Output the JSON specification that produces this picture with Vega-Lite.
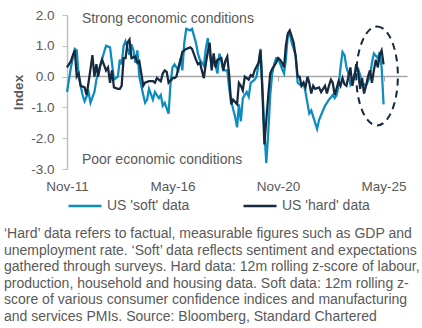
{
  "$schema": "https://vega.github.io/schema/vega-lite/v6.json",
  "width": 340,
  "height": 154,
  "autosize": {"type": "none"},
  "padding": {"left": 67, "top": 15, "right": 15, "bottom": 159},
  "background": "white",
  "config": {"font": "Liberation Sans", "view": {"stroke": null}},
  "title": {
    "text": [
      "‘Hard’ data refers to factual, measurable figures such as GDP and",
      "unemployment rate. ‘Soft’ data reflects sentiment and expectations",
      "gathered through surveys. Hard data: 12m rolling z-score of labour,",
      "production, household and housing data. Soft data: 12m rolling z-",
      "score of various consumer confidence indices and manufacturing",
      "and services PMIs. Source: Bloomberg, Standard Chartered"
    ],
    "orient": "bottom",
    "anchor": "start",
    "frame": "group",
    "dx": -63,
    "offset": 14,
    "fontSize": 14,
    "fontWeight": "normal",
    "color": "#595959",
    "lineHeight": 16.5
  },
  "datasets": {
    "series": [
      {"series": "US 'soft' data", "date": "2011-11-01", "value": -0.5},
      {"series": "US 'soft' data", "date": "2012-01-01", "value": 0.3},
      {"series": "US 'soft' data", "date": "2012-03-01", "value": 0.9},
      {"series": "US 'soft' data", "date": "2012-04-01", "value": 0.85},
      {"series": "US 'soft' data", "date": "2012-05-01", "value": 0.0},
      {"series": "US 'soft' data", "date": "2012-07-01", "value": -0.6},
      {"series": "US 'soft' data", "date": "2012-08-01", "value": -0.8},
      {"series": "US 'soft' data", "date": "2012-10-01", "value": -0.5},
      {"series": "US 'soft' data", "date": "2012-11-01", "value": -0.85},
      {"series": "US 'soft' data", "date": "2013-01-01", "value": -0.5},
      {"series": "US 'soft' data", "date": "2013-02-01", "value": -0.1},
      {"series": "US 'soft' data", "date": "2013-04-01", "value": 0.35},
      {"series": "US 'soft' data", "date": "2013-06-01", "value": 0.8},
      {"series": "US 'soft' data", "date": "2013-07-01", "value": 1.0},
      {"series": "US 'soft' data", "date": "2013-09-01", "value": 0.95},
      {"series": "US 'soft' data", "date": "2013-10-01", "value": 0.45},
      {"series": "US 'soft' data", "date": "2013-11-01", "value": -0.1},
      {"series": "US 'soft' data", "date": "2014-01-01", "value": 0.0},
      {"series": "US 'soft' data", "date": "2014-02-01", "value": 0.55},
      {"series": "US 'soft' data", "date": "2014-03-01", "value": 0.4},
      {"series": "US 'soft' data", "date": "2014-04-01", "value": 1.0},
      {"series": "US 'soft' data", "date": "2014-05-01", "value": 1.15},
      {"series": "US 'soft' data", "date": "2014-07-01", "value": 0.7},
      {"series": "US 'soft' data", "date": "2014-08-01", "value": 1.05},
      {"series": "US 'soft' data", "date": "2014-09-01", "value": 0.85},
      {"series": "US 'soft' data", "date": "2014-10-01", "value": 0.45},
      {"series": "US 'soft' data", "date": "2014-11-01", "value": 0.85},
      {"series": "US 'soft' data", "date": "2014-12-01", "value": 0.0},
      {"series": "US 'soft' data", "date": "2015-02-01", "value": -0.6},
      {"series": "US 'soft' data", "date": "2015-03-01", "value": -0.85},
      {"series": "US 'soft' data", "date": "2015-04-01", "value": -0.75},
      {"series": "US 'soft' data", "date": "2015-05-01", "value": -0.4},
      {"series": "US 'soft' data", "date": "2015-07-01", "value": -0.75},
      {"series": "US 'soft' data", "date": "2015-08-01", "value": -0.5},
      {"series": "US 'soft' data", "date": "2015-10-01", "value": -0.7},
      {"series": "US 'soft' data", "date": "2015-11-01", "value": -0.6},
      {"series": "US 'soft' data", "date": "2015-12-01", "value": -0.95},
      {"series": "US 'soft' data", "date": "2016-01-01", "value": -0.85},
      {"series": "US 'soft' data", "date": "2016-03-01", "value": -1.2},
      {"series": "US 'soft' data", "date": "2016-04-01", "value": -0.2},
      {"series": "US 'soft' data", "date": "2016-05-01", "value": 0.3},
      {"series": "US 'soft' data", "date": "2016-06-01", "value": 0.4},
      {"series": "US 'soft' data", "date": "2016-08-01", "value": 0.2},
      {"series": "US 'soft' data", "date": "2016-09-01", "value": 0.6},
      {"series": "US 'soft' data", "date": "2016-10-01", "value": 0.2},
      {"series": "US 'soft' data", "date": "2016-11-01", "value": 1.1},
      {"series": "US 'soft' data", "date": "2016-12-01", "value": 1.55},
      {"series": "US 'soft' data", "date": "2017-02-01", "value": 1.5},
      {"series": "US 'soft' data", "date": "2017-03-01", "value": 1.55},
      {"series": "US 'soft' data", "date": "2017-05-01", "value": 1.1},
      {"series": "US 'soft' data", "date": "2017-06-01", "value": 0.75},
      {"series": "US 'soft' data", "date": "2017-07-01", "value": 0.55},
      {"series": "US 'soft' data", "date": "2017-09-01", "value": 0.35},
      {"series": "US 'soft' data", "date": "2017-10-01", "value": 0.9},
      {"series": "US 'soft' data", "date": "2017-11-01", "value": 1.25},
      {"series": "US 'soft' data", "date": "2017-12-01", "value": 0.75},
      {"series": "US 'soft' data", "date": "2018-01-01", "value": 0.3},
      {"series": "US 'soft' data", "date": "2018-02-01", "value": 0.6},
      {"series": "US 'soft' data", "date": "2018-04-01", "value": 0.1},
      {"series": "US 'soft' data", "date": "2018-05-01", "value": 0.75},
      {"series": "US 'soft' data", "date": "2018-06-01", "value": 0.5},
      {"series": "US 'soft' data", "date": "2018-07-01", "value": 0.2},
      {"series": "US 'soft' data", "date": "2018-09-01", "value": 0.2},
      {"series": "US 'soft' data", "date": "2018-10-01", "value": -0.4},
      {"series": "US 'soft' data", "date": "2018-11-01", "value": -0.8},
      {"series": "US 'soft' data", "date": "2018-12-01", "value": -1.05},
      {"series": "US 'soft' data", "date": "2019-01-01", "value": -1.3},
      {"series": "US 'soft' data", "date": "2019-02-01", "value": -1.65},
      {"series": "US 'soft' data", "date": "2019-03-01", "value": -0.9},
      {"series": "US 'soft' data", "date": "2019-04-01", "value": -1.45},
      {"series": "US 'soft' data", "date": "2019-05-01", "value": -0.7},
      {"series": "US 'soft' data", "date": "2019-07-01", "value": -0.5},
      {"series": "US 'soft' data", "date": "2019-08-01", "value": -0.65},
      {"series": "US 'soft' data", "date": "2019-09-01", "value": -0.2},
      {"series": "US 'soft' data", "date": "2019-11-01", "value": -0.1},
      {"series": "US 'soft' data", "date": "2019-12-01", "value": 0.0},
      {"series": "US 'soft' data", "date": "2020-01-01", "value": 0.4},
      {"series": "US 'soft' data", "date": "2020-02-01", "value": 0.9},
      {"series": "US 'soft' data", "date": "2020-03-01", "value": -0.3},
      {"series": "US 'soft' data", "date": "2020-04-01", "value": -1.8},
      {"series": "US 'soft' data", "date": "2020-05-01", "value": -2.8},
      {"series": "US 'soft' data", "date": "2020-06-01", "value": -1.8},
      {"series": "US 'soft' data", "date": "2020-07-01", "value": -0.6},
      {"series": "US 'soft' data", "date": "2020-08-01", "value": 0.1},
      {"series": "US 'soft' data", "date": "2020-09-01", "value": 0.4},
      {"series": "US 'soft' data", "date": "2020-10-01", "value": 0.6},
      {"series": "US 'soft' data", "date": "2020-11-01", "value": 0.6},
      {"series": "US 'soft' data", "date": "2021-01-01", "value": 0.25},
      {"series": "US 'soft' data", "date": "2021-02-01", "value": 0.1},
      {"series": "US 'soft' data", "date": "2021-03-01", "value": 0.55},
      {"series": "US 'soft' data", "date": "2021-04-01", "value": 1.35},
      {"series": "US 'soft' data", "date": "2021-05-01", "value": 1.4},
      {"series": "US 'soft' data", "date": "2021-06-01", "value": 1.1},
      {"series": "US 'soft' data", "date": "2021-07-01", "value": 0.9},
      {"series": "US 'soft' data", "date": "2021-08-01", "value": 0.7},
      {"series": "US 'soft' data", "date": "2021-09-01", "value": -0.2},
      {"series": "US 'soft' data", "date": "2021-11-01", "value": -0.3},
      {"series": "US 'soft' data", "date": "2021-12-01", "value": -0.2},
      {"series": "US 'soft' data", "date": "2022-01-01", "value": -0.5},
      {"series": "US 'soft' data", "date": "2022-03-01", "value": -1.2},
      {"series": "US 'soft' data", "date": "2022-04-01", "value": -1.1},
      {"series": "US 'soft' data", "date": "2022-05-01", "value": -1.3},
      {"series": "US 'soft' data", "date": "2022-06-01", "value": -1.5},
      {"series": "US 'soft' data", "date": "2022-07-01", "value": -1.7},
      {"series": "US 'soft' data", "date": "2022-08-01", "value": -1.4},
      {"series": "US 'soft' data", "date": "2022-10-01", "value": -1.1},
      {"series": "US 'soft' data", "date": "2022-11-01", "value": -0.95},
      {"series": "US 'soft' data", "date": "2022-12-01", "value": -0.85},
      {"series": "US 'soft' data", "date": "2023-01-01", "value": -0.75},
      {"series": "US 'soft' data", "date": "2023-03-01", "value": -0.6},
      {"series": "US 'soft' data", "date": "2023-04-01", "value": -0.7},
      {"series": "US 'soft' data", "date": "2023-05-01", "value": -0.6},
      {"series": "US 'soft' data", "date": "2023-06-01", "value": -0.3},
      {"series": "US 'soft' data", "date": "2023-07-01", "value": 0.3},
      {"series": "US 'soft' data", "date": "2023-08-01", "value": 0.8},
      {"series": "US 'soft' data", "date": "2023-09-01", "value": 0.7},
      {"series": "US 'soft' data", "date": "2023-10-01", "value": 0.3},
      {"series": "US 'soft' data", "date": "2023-11-01", "value": 0.1},
      {"series": "US 'soft' data", "date": "2023-12-01", "value": -0.25},
      {"series": "US 'soft' data", "date": "2024-01-01", "value": -0.1},
      {"series": "US 'soft' data", "date": "2024-02-01", "value": 0.05},
      {"series": "US 'soft' data", "date": "2024-03-01", "value": 0.2},
      {"series": "US 'soft' data", "date": "2024-04-01", "value": 0.25},
      {"series": "US 'soft' data", "date": "2024-05-01", "value": 0.05},
      {"series": "US 'soft' data", "date": "2024-06-01", "value": -0.2},
      {"series": "US 'soft' data", "date": "2024-07-01", "value": -0.25},
      {"series": "US 'soft' data", "date": "2024-08-01", "value": -0.3},
      {"series": "US 'soft' data", "date": "2024-10-01", "value": 0.0},
      {"series": "US 'soft' data", "date": "2024-11-01", "value": 0.45},
      {"series": "US 'soft' data", "date": "2024-12-01", "value": 0.75},
      {"series": "US 'soft' data", "date": "2025-02-01", "value": 0.6},
      {"series": "US 'soft' data", "date": "2025-03-01", "value": 0.8},
      {"series": "US 'soft' data", "date": "2025-04-01", "value": 0.3},
      {"series": "US 'soft' data", "date": "2025-05-01", "value": -0.9},
      {"series": "US 'hard' data", "date": "2011-11-01", "value": 0.3},
      {"series": "US 'hard' data", "date": "2012-01-01", "value": 0.5},
      {"series": "US 'hard' data", "date": "2012-02-01", "value": 0.7},
      {"series": "US 'hard' data", "date": "2012-03-01", "value": 0.85},
      {"series": "US 'hard' data", "date": "2012-04-01", "value": 0.0},
      {"series": "US 'hard' data", "date": "2012-05-01", "value": 0.1},
      {"series": "US 'hard' data", "date": "2012-06-01", "value": -0.3},
      {"series": "US 'hard' data", "date": "2012-08-01", "value": -0.35},
      {"series": "US 'hard' data", "date": "2012-09-01", "value": -0.6},
      {"series": "US 'hard' data", "date": "2012-10-01", "value": -0.2},
      {"series": "US 'hard' data", "date": "2012-11-01", "value": 0.25},
      {"series": "US 'hard' data", "date": "2012-12-01", "value": 0.7},
      {"series": "US 'hard' data", "date": "2013-01-01", "value": 0.0},
      {"series": "US 'hard' data", "date": "2013-02-01", "value": 0.4},
      {"series": "US 'hard' data", "date": "2013-03-01", "value": 0.0},
      {"series": "US 'hard' data", "date": "2013-04-01", "value": 0.35},
      {"series": "US 'hard' data", "date": "2013-05-01", "value": 0.55},
      {"series": "US 'hard' data", "date": "2013-07-01", "value": 0.2},
      {"series": "US 'hard' data", "date": "2013-08-01", "value": 0.3},
      {"series": "US 'hard' data", "date": "2013-09-01", "value": -0.2},
      {"series": "US 'hard' data", "date": "2013-10-01", "value": 0.2},
      {"series": "US 'hard' data", "date": "2013-11-01", "value": -0.35},
      {"series": "US 'hard' data", "date": "2014-01-01", "value": -0.4},
      {"series": "US 'hard' data", "date": "2014-02-01", "value": -0.4},
      {"series": "US 'hard' data", "date": "2014-03-01", "value": -0.3},
      {"series": "US 'hard' data", "date": "2014-04-01", "value": 0.6},
      {"series": "US 'hard' data", "date": "2014-05-01", "value": 0.6},
      {"series": "US 'hard' data", "date": "2014-06-01", "value": 1.1},
      {"series": "US 'hard' data", "date": "2014-07-01", "value": 1.2},
      {"series": "US 'hard' data", "date": "2014-08-01", "value": 0.6},
      {"series": "US 'hard' data", "date": "2014-10-01", "value": 0.65},
      {"series": "US 'hard' data", "date": "2014-11-01", "value": 0.45},
      {"series": "US 'hard' data", "date": "2014-12-01", "value": 0.5},
      {"series": "US 'hard' data", "date": "2015-01-01", "value": 0.1},
      {"series": "US 'hard' data", "date": "2015-02-01", "value": -0.3},
      {"series": "US 'hard' data", "date": "2015-03-01", "value": -0.2},
      {"series": "US 'hard' data", "date": "2015-05-01", "value": -0.15},
      {"series": "US 'hard' data", "date": "2015-07-01", "value": -0.15},
      {"series": "US 'hard' data", "date": "2015-08-01", "value": -0.2},
      {"series": "US 'hard' data", "date": "2015-09-01", "value": -0.05},
      {"series": "US 'hard' data", "date": "2015-11-01", "value": -0.15},
      {"series": "US 'hard' data", "date": "2015-12-01", "value": 0.1},
      {"series": "US 'hard' data", "date": "2016-01-01", "value": 0.2},
      {"series": "US 'hard' data", "date": "2016-02-01", "value": 0.15},
      {"series": "US 'hard' data", "date": "2016-03-01", "value": -0.2},
      {"series": "US 'hard' data", "date": "2016-05-01", "value": -0.05},
      {"series": "US 'hard' data", "date": "2016-06-01", "value": -0.05},
      {"series": "US 'hard' data", "date": "2016-07-01", "value": 0.0},
      {"series": "US 'hard' data", "date": "2016-08-01", "value": 0.3},
      {"series": "US 'hard' data", "date": "2016-09-01", "value": 0.5},
      {"series": "US 'hard' data", "date": "2016-10-01", "value": 0.8},
      {"series": "US 'hard' data", "date": "2016-12-01", "value": 0.9},
      {"series": "US 'hard' data", "date": "2017-02-01", "value": 0.95},
      {"series": "US 'hard' data", "date": "2017-03-01", "value": 0.9},
      {"series": "US 'hard' data", "date": "2017-05-01", "value": 0.55},
      {"series": "US 'hard' data", "date": "2017-06-01", "value": 0.4},
      {"series": "US 'hard' data", "date": "2017-07-01", "value": 0.45},
      {"series": "US 'hard' data", "date": "2017-09-01", "value": -0.05},
      {"series": "US 'hard' data", "date": "2017-10-01", "value": 0.4},
      {"series": "US 'hard' data", "date": "2017-11-01", "value": 0.8},
      {"series": "US 'hard' data", "date": "2017-12-01", "value": 1.1},
      {"series": "US 'hard' data", "date": "2018-01-01", "value": 0.2},
      {"series": "US 'hard' data", "date": "2018-02-01", "value": 0.75},
      {"series": "US 'hard' data", "date": "2018-03-01", "value": 0.3},
      {"series": "US 'hard' data", "date": "2018-04-01", "value": 0.55},
      {"series": "US 'hard' data", "date": "2018-06-01", "value": 0.6},
      {"series": "US 'hard' data", "date": "2018-07-01", "value": 0.2},
      {"series": "US 'hard' data", "date": "2018-08-01", "value": 0.5},
      {"series": "US 'hard' data", "date": "2018-09-01", "value": 0.65},
      {"series": "US 'hard' data", "date": "2018-10-01", "value": 0.05},
      {"series": "US 'hard' data", "date": "2018-11-01", "value": -0.9},
      {"series": "US 'hard' data", "date": "2018-12-01", "value": -0.75},
      {"series": "US 'hard' data", "date": "2019-02-01", "value": -0.9},
      {"series": "US 'hard' data", "date": "2019-03-01", "value": -0.2},
      {"series": "US 'hard' data", "date": "2019-04-01", "value": -0.3},
      {"series": "US 'hard' data", "date": "2019-05-01", "value": -0.45},
      {"series": "US 'hard' data", "date": "2019-06-01", "value": 0.0},
      {"series": "US 'hard' data", "date": "2019-08-01", "value": -0.1},
      {"series": "US 'hard' data", "date": "2019-09-01", "value": 0.05},
      {"series": "US 'hard' data", "date": "2019-10-01", "value": 0.0},
      {"series": "US 'hard' data", "date": "2019-11-01", "value": 0.2},
      {"series": "US 'hard' data", "date": "2020-01-01", "value": 0.45},
      {"series": "US 'hard' data", "date": "2020-02-01", "value": 0.85},
      {"series": "US 'hard' data", "date": "2020-03-01", "value": -0.5},
      {"series": "US 'hard' data", "date": "2020-04-01", "value": -2.2},
      {"series": "US 'hard' data", "date": "2020-05-01", "value": -1.4},
      {"series": "US 'hard' data", "date": "2020-06-01", "value": -0.6},
      {"series": "US 'hard' data", "date": "2020-07-01", "value": 0.1},
      {"series": "US 'hard' data", "date": "2020-08-01", "value": 0.25},
      {"series": "US 'hard' data", "date": "2020-09-01", "value": 0.35},
      {"series": "US 'hard' data", "date": "2020-10-01", "value": 0.45},
      {"series": "US 'hard' data", "date": "2020-11-01", "value": 0.6},
      {"series": "US 'hard' data", "date": "2020-12-01", "value": 0.55},
      {"series": "US 'hard' data", "date": "2021-01-01", "value": 0.45},
      {"series": "US 'hard' data", "date": "2021-02-01", "value": 0.3},
      {"series": "US 'hard' data", "date": "2021-03-01", "value": 1.0},
      {"series": "US 'hard' data", "date": "2021-04-01", "value": 1.4},
      {"series": "US 'hard' data", "date": "2021-05-01", "value": 1.5},
      {"series": "US 'hard' data", "date": "2021-06-01", "value": 1.3},
      {"series": "US 'hard' data", "date": "2021-07-01", "value": 1.1},
      {"series": "US 'hard' data", "date": "2021-08-01", "value": 0.65},
      {"series": "US 'hard' data", "date": "2021-09-01", "value": 0.0},
      {"series": "US 'hard' data", "date": "2021-10-01", "value": 0.0},
      {"series": "US 'hard' data", "date": "2021-11-01", "value": -0.3},
      {"series": "US 'hard' data", "date": "2021-12-01", "value": -0.2},
      {"series": "US 'hard' data", "date": "2022-01-01", "value": -0.35},
      {"series": "US 'hard' data", "date": "2022-02-01", "value": 0.0},
      {"series": "US 'hard' data", "date": "2022-03-01", "value": -0.2},
      {"series": "US 'hard' data", "date": "2022-04-01", "value": -0.55},
      {"series": "US 'hard' data", "date": "2022-05-01", "value": -0.3},
      {"series": "US 'hard' data", "date": "2022-06-01", "value": -0.4},
      {"series": "US 'hard' data", "date": "2022-08-01", "value": -0.35},
      {"series": "US 'hard' data", "date": "2022-09-01", "value": -0.5},
      {"series": "US 'hard' data", "date": "2022-11-01", "value": -0.3},
      {"series": "US 'hard' data", "date": "2022-12-01", "value": -0.55},
      {"series": "US 'hard' data", "date": "2023-01-01", "value": -0.3},
      {"series": "US 'hard' data", "date": "2023-02-01", "value": -0.1},
      {"series": "US 'hard' data", "date": "2023-03-01", "value": -0.2},
      {"series": "US 'hard' data", "date": "2023-04-01", "value": -0.6},
      {"series": "US 'hard' data", "date": "2023-06-01", "value": -0.15},
      {"series": "US 'hard' data", "date": "2023-07-01", "value": -0.3},
      {"series": "US 'hard' data", "date": "2023-08-01", "value": -0.05},
      {"series": "US 'hard' data", "date": "2023-09-01", "value": -0.25},
      {"series": "US 'hard' data", "date": "2023-10-01", "value": -0.3},
      {"series": "US 'hard' data", "date": "2023-11-01", "value": 0.0},
      {"series": "US 'hard' data", "date": "2023-12-01", "value": 0.3},
      {"series": "US 'hard' data", "date": "2024-01-01", "value": -0.3},
      {"series": "US 'hard' data", "date": "2024-02-01", "value": 0.0},
      {"series": "US 'hard' data", "date": "2024-03-01", "value": 0.4},
      {"series": "US 'hard' data", "date": "2024-04-01", "value": 0.15},
      {"series": "US 'hard' data", "date": "2024-05-01", "value": -0.4},
      {"series": "US 'hard' data", "date": "2024-06-01", "value": -0.05},
      {"series": "US 'hard' data", "date": "2024-07-01", "value": -0.55},
      {"series": "US 'hard' data", "date": "2024-08-01", "value": -0.3},
      {"series": "US 'hard' data", "date": "2024-09-01", "value": 0.0},
      {"series": "US 'hard' data", "date": "2024-10-01", "value": 0.2},
      {"series": "US 'hard' data", "date": "2024-11-01", "value": -0.2},
      {"series": "US 'hard' data", "date": "2024-12-01", "value": 0.2},
      {"series": "US 'hard' data", "date": "2025-01-01", "value": 0.55},
      {"series": "US 'hard' data", "date": "2025-02-01", "value": 0.3},
      {"series": "US 'hard' data", "date": "2025-03-01", "value": 0.7},
      {"series": "US 'hard' data", "date": "2025-04-01", "value": 0.85},
      {"series": "US 'hard' data", "date": "2025-05-01", "value": 0.4}
    ],
    "notes": [
      {"date": "2012-06-20", "value": 1.88, "label": "Strong economic conditions"},
      {"date": "2012-06-20", "value": -2.72, "label": "Poor economic conditions"}
    ],
    "focus": [
      {"date": "2025-01-20", "value": 0.02}
    ]
  },
  "layer": [
    {
      "data": {"name": "series"},
      "mark": {"type": "line", "strokeWidth": 2.25},
      "encoding": {
        "x": {
          "field": "date",
          "type": "temporal",
          "scale": {
            "type": "utc",
            "domain": [
              {"year": 2011, "month": 11, "date": 1, "utc": true},
              {"year": 2026, "month": 5, "date": 1, "utc": true}
            ]
          },
          "axis": {
            "title": null,
            "values": [
              {"year": 2011, "month": 11, "date": 1, "utc": true},
              {"year": 2016, "month": 5, "date": 1, "utc": true},
              {"year": 2020, "month": 11, "date": 1, "utc": true},
              {"year": 2025, "month": 5, "date": 1, "utc": true}
            ],
            "tickCount": 20,
            "format": "%b-%y",
            "labelFontSize": 13.5,
            "labelColor": "#595959",
            "labelFlush": false,
            "labelOverlap": false,
            "offset": -93,
            "labelPadding": 98,
            "tickSize": 5,
            "tickColor": "#A6A6A6",
            "domainColor": "#A6A6A6",
            "domainWidth": 1.5,
            "grid": false
          }
        },
        "y": {
          "field": "value",
          "type": "quantitative",
          "scale": {"domain": [-3, 2], "nice": false, "zero": false},
          "axis": {
            "title": "Index",
            "titleFontSize": 13.5,
            "titleFontWeight": "bold",
            "titleColor": "#595959",
            "titlePadding": 5,
            "values": [-3, -2, -1, 0, 1, 2],
            "tickCount": 20,
            "labelExpr": "datum.value < 0 ? '-' + format(-datum.value, '.1f') : format(datum.value, '.1f')",
            "labelFontSize": 13.5,
            "labelColor": "#595959",
            "labelPadding": 8,
            "labelOverlap": false,
            "labelFlush": false,
            "tickSize": 5,
            "tickColor": "#BFBFBF",
            "domainColor": "#BFBFBF",
            "domainWidth": 1.5,
            "grid": false
          }
        },
        "color": {
          "field": "series",
          "type": "nominal",
          "scale": {
            "domain": ["US 'soft' data", "US 'hard' data"],
            "range": ["#0C8CC0", "#15293F"]
          },
          "legend": {
            "title": null,
            "orient": "none",
            "legendX": 0,
            "legendY": 173,
            "direction": "horizontal",
            "symbolType": "stroke",
            "symbolSize": 1089,
            "symbolStrokeWidth": 2.5,
            "labelFontSize": 14,
            "labelColor": "#595959",
            "labelOffset": 4,
            "columnPadding": 48
          }
        }
      }
    },
    {
      "data": {"name": "focus"},
      "mark": {
        "type": "point",
        "shape": "M0,-1C0.232,-1,0.42,-0.552,0.42,0C0.42,0.552,0.232,1,0,1C-0.232,1,-0.42,0.552,-0.42,0C-0.42,-0.552,-0.232,-1,0,-1Z",
        "size": 9800,
        "filled": false,
        "stroke": "#15293F",
        "strokeWidth": 2,
        "strokeDash": [7, 5],
        "opacity": 1
      },
      "encoding": {
        "x": {"field": "date", "type": "temporal"},
        "y": {"field": "value", "type": "quantitative"}
      }
    },
    {
      "data": {"name": "notes"},
      "mark": {"type": "text", "align": "left", "baseline": "middle", "fontSize": 14, "color": "#595959"},
      "encoding": {
        "x": {"field": "date", "type": "temporal"},
        "y": {"field": "value", "type": "quantitative"},
        "text": {"field": "label"}
      }
    }
  ]
}
